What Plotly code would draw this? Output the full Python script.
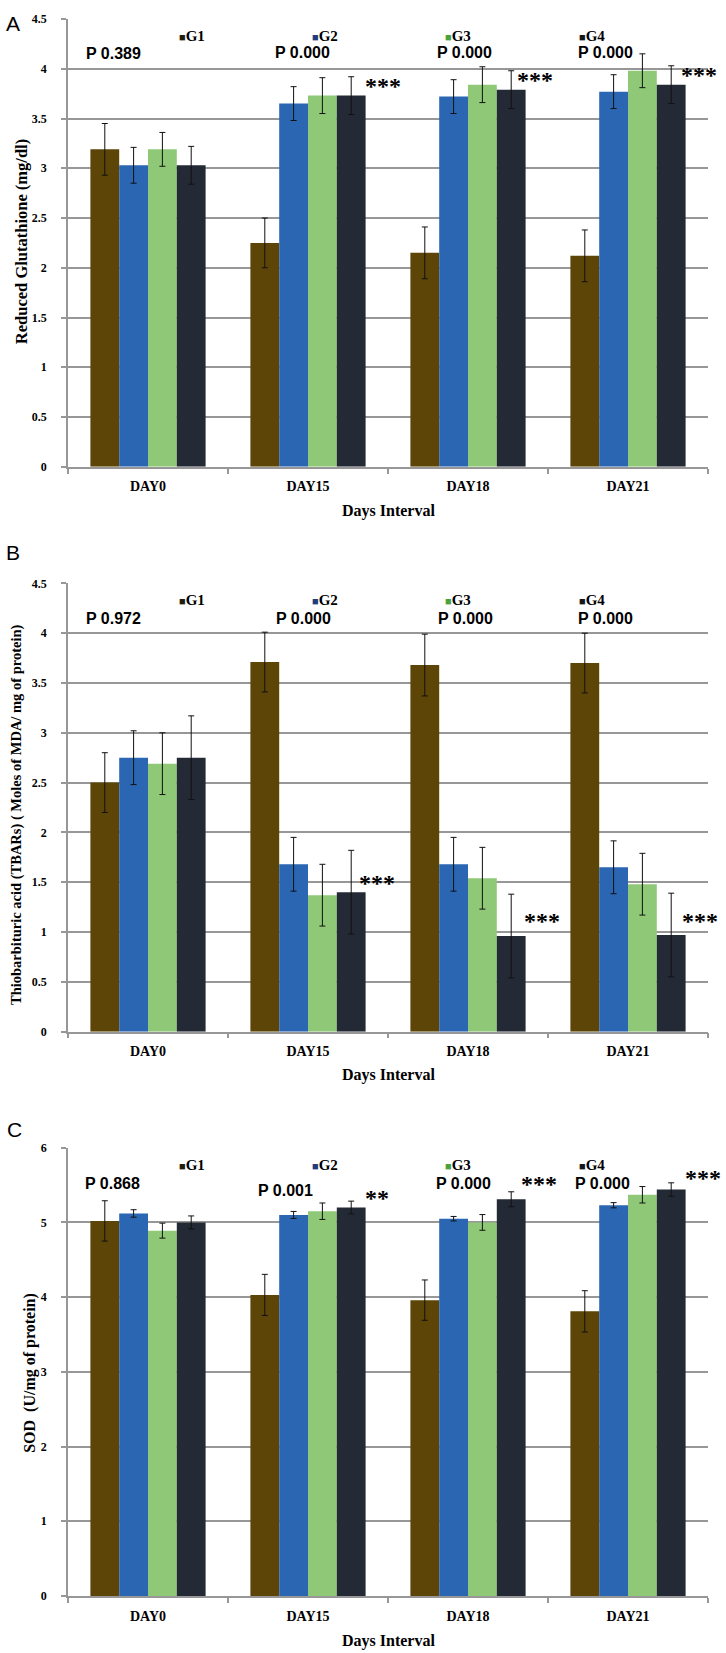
import plotly.graph_objects as go

# ---------------- data ----------------
categories = ["DAY0", "DAY15", "DAY18", "DAY21"]
groups = ["G1", "G2", "G3", "G4"]

# Panel A : Reduced Glutathione (mg/dl)
gsh_g1 = [3.19, 2.25, 2.15, 2.12]
gsh_g2 = [3.03, 3.65, 3.72, 3.77]
gsh_g3 = [3.19, 3.73, 3.84, 3.98]
gsh_g4 = [3.03, 3.73, 3.79, 3.84]
gsh_g1_err = [0.26, 0.25, 0.26, 0.26]
gsh_g2_err = [0.18, 0.17, 0.17, 0.17]
gsh_g3_err = [0.17, 0.18, 0.18, 0.17]
gsh_g4_err = [0.19, 0.19, 0.19, 0.19]
gsh_p = ["P 0.389", "P 0.000", "P 0.000", "P 0.000"]
gsh_sig = ["", "***", "***", "***"]

# Panel B : TBARs (Moles of MDA / mg of protein)
tbars_g1 = [2.50, 3.71, 3.68, 3.70]
tbars_g2 = [2.75, 1.68, 1.68, 1.65]
tbars_g3 = [2.69, 1.37, 1.54, 1.48]
tbars_g4 = [2.75, 1.40, 0.96, 0.97]
tbars_g1_err = [0.30, 0.30, 0.31, 0.30]
tbars_g2_err = [0.27, 0.27, 0.27, 0.265]
tbars_g3_err = [0.31, 0.31, 0.31, 0.31]
tbars_g4_err = [0.42, 0.42, 0.42, 0.42]
tbars_p = ["P 0.972", "P 0.000", "P 0.000", "P 0.000"]
tbars_sig = ["", "***", "***", "***"]

# Panel C : SOD (U/mg of protein)
sod_g1 = [5.02, 4.03, 3.96, 3.81]
sod_g2 = [5.12, 5.10, 5.05, 5.23]
sod_g3 = [4.89, 5.15, 5.00, 5.37]
sod_g4 = [5.00, 5.20, 5.31, 5.44]
sod_g1_err = [0.27, 0.275, 0.27, 0.276]
sod_g2_err = [0.05, 0.047, 0.03, 0.035]
sod_g3_err = [0.10, 0.11, 0.105, 0.11]
sod_g4_err = [0.087, 0.085, 0.10, 0.09]
sod_p = ["P 0.868", "P 0.001", "P 0.000", "P 0.000"]
sod_sig = ["", "**", "***", "***"]

# ---------------- styling / layout ----------------
bar_colors = ["#5c4506", "#2a66b2", "#8fc877", "#232a35"]
legend_colors = ["#231d0c", "#1f3c7d", "#4ba23a", "#161616"]
grid_col = "#979797"
SERIF = "Liberation Serif"
SANS = "Liberation Sans"

W, H = 726, 1653
ML, MR, MT, MB = 68, 18, 13, 57
PH = H - MT - MB
PW = W - ML - MR


def py(p):
    return (H - MB - p) / PH


def pxp(x):
    return (x - ML) / PW


panels = [
    dict(vals=[gsh_g1, gsh_g2, gsh_g3, gsh_g4],
         errs=[gsh_g1_err, gsh_g2_err, gsh_g3_err, gsh_g4_err],
         p=gsh_p, sig=gsh_sig, ymax=4.5, dtick=0.5,
         dom=[py(462.5), 1.0],
         title="Reduced Glutathione (mg/dl)", tsize=16.5, tx=21, ty=237,
         letter=("A", 13, 17.5), leg_y=30, xt_y=507,
         p_pos=[(113, 48), (302, 47), (464, 47), (605, 47)],
         s_pos=[None, (383, 81.7), (535, 75), (699, 70)]),
    dict(vals=[tbars_g1, tbars_g2, tbars_g3, tbars_g4],
         errs=[tbars_g1_err, tbars_g2_err, tbars_g3_err, tbars_g4_err],
         p=tbars_p, sig=tbars_sig, ymax=4.5, dtick=0.5,
         dom=[py(1029.5), py(579.5)],
         title="Thiobarbituric acid (TBARs) ( Moles of MDA/ mg of protein)",
         tsize=14.5, tx=17, ty=812,
         letter=("B", 13, 549), leg_y=596.7, xt_y=1073,
         p_pos=[(113, 615), (303, 615), (465, 615), (605, 615)],
         s_pos=[None, (377, 881.7), (542, 919.3), (700, 919.3)]),
    dict(vals=[sod_g1, sod_g2, sod_g3, sod_g4],
         errs=[sod_g1_err, sod_g2_err, sod_g3_err, sod_g4_err],
         p=sod_p, sig=sod_sig, ymax=6, dtick=1,
         dom=[0.0, py(1146)],
         title="SOD  (U/mg of protein)", tsize=16, tx=30, ty=1372,
         letter=("C", 14, 1128), leg_y=1163, xt_y=1641,
         p_pos=[(112.5, 1181.7), (285, 1189), (463, 1181.7), (602, 1181.7)],
         s_pos=[None, (377, 1197), (539, 1183), (702.5, 1177)]),
]

fig = go.Figure()
annotations = []
legend_x = [177, 310, 443, 577]

for i, pn in enumerate(panels):
    sfx = "" if i == 0 else str(i + 1)
    for g, name in enumerate(groups):
        fig.add_trace(go.Bar(
            x=categories, y=pn["vals"][g], name=name,
            xaxis="x" + sfx, yaxis="y" + sfx,
            marker=dict(color=bar_colors[g], line=dict(width=0)),
            error_y=dict(type="data", array=pn["errs"][g], visible=True,
                         color="#111111", thickness=1, width=3),
            showlegend=False,
        ))

    fig.update_layout(**{
        "xaxis" + sfx: dict(
            domain=[0, 1], anchor="y" + sfx, type="category",
            categoryorder="array", categoryarray=categories,
            tickson="boundaries", ticks="outside", ticklen=5, tickwidth=1.5,
            tickcolor=grid_col, showline=True, linecolor=grid_col, linewidth=1.5,
            showgrid=False, zeroline=False, ticklabelstandoff=6,
            tickfont=dict(family=SERIF, size=14, color="black", weight="bold"),
        ),
        "yaxis" + sfx: dict(
            domain=pn["dom"], anchor="x" + sfx, range=[0, pn["ymax"]],
            dtick=pn["dtick"], tick0=0, showgrid=True, gridcolor=grid_col,
            gridwidth=1.5, zeroline=False, showline=True, linecolor=grid_col,
            linewidth=1.5, ticks="outside", ticklen=5, tickwidth=1.5,
            tickcolor=grid_col, ticklabelstandoff=12,
            tickfont=dict(family=SERIF, size=12, color="black", weight="bold"),
        ),
    })

    def ann(text, x, y, font, xanchor="center", angle=0):
        annotations.append(dict(
            text=text, x=pxp(x), y=py(y), xref="paper", yref="paper",
            xanchor=xanchor, yanchor="middle", showarrow=False,
            textangle=angle, font=font))

    # panel letter
    L, lx, ly = pn["letter"]
    ann(L, lx, ly, dict(family=SANS, size=21, color="black"))
    # y-axis title
    ann("<b>" + pn["title"] + "</b>", pn["tx"], pn["ty"],
        dict(family=SERIF, size=pn["tsize"], color="black"), angle=-90)
    # x-axis title
    ann("<b>Days Interval</b>", 388, pn["xt_y"],
        dict(family=SERIF, size=16, color="black"))
    # legend
    for g, name in enumerate(groups):
        ann('<span style="color:%s;font-size:11px">■</span><b>%s</b>'
            % (legend_colors[g], name),
            legend_x[g], pn["leg_y"],
            dict(family=SERIF, size=15, color="black"), xanchor="left")
    # P values
    for k, txt in enumerate(pn["p"]):
        x, y = pn["p_pos"][k]
        ann("<b>" + txt + "</b>", x, y, dict(family=SANS, size=16, color="black"))
    # significance stars
    for k, txt in enumerate(pn["sig"]):
        if txt and pn["s_pos"][k]:
            x, y = pn["s_pos"][k]
            ann("<b>" + txt + "</b>", x, y - 1, dict(family=SERIF, size=24, color="black"))

fig.update_layout(
    width=W, height=H,
    margin=dict(l=ML, r=MR, t=MT, b=MB),
    paper_bgcolor="white", plot_bgcolor="white",
    barmode="group", bargap=0.28, bargroupgap=0,
    annotations=annotations,
    showlegend=False,
)

fig.write_html(
    "out.html",
    config={"displayModeBar": False},
    post_script="document.body.style.margin='0';document.body.style.padding='0';"
                "document.documentElement.style.overflow='hidden';",
)
